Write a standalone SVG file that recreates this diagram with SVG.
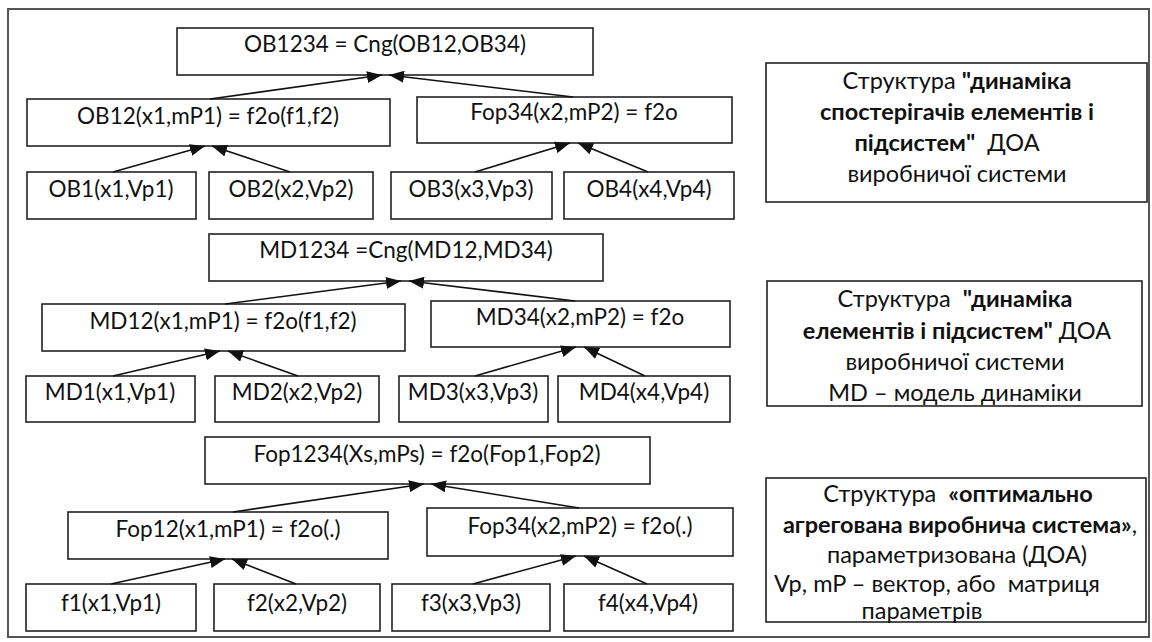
<svg xmlns="http://www.w3.org/2000/svg" width="1152" height="642" viewBox="0 0 1152 642">
  <style>
    .frame { fill: #ffffff; stroke: #555555; stroke-width: 2; }
    .box { fill: #ffffff; stroke: #222222; stroke-width: 1.6; }
    .t { font-family: Lato, "Liberation Sans", sans-serif; font-size: 22.5px; fill: #111111; text-anchor: middle; white-space: pre; }
    .n { font-family: Lato, "Liberation Sans", sans-serif; font-size: 23.5px; fill: #111111; text-anchor: middle; white-space: pre; }
    .b { font-weight: bold; }
    .edge { stroke: #111111; stroke-width: 1.6; fill: none; marker-end: url(#arrow); }
  </style>
  <defs>
    <marker id="arrow" markerUnits="userSpaceOnUse" markerWidth="15" markerHeight="12" refX="15" refY="6" orient="auto">
      <path d="M0,0 L15,6 L0,12 z" fill="#111111"/>
    </marker>
  </defs>
  <rect x="0" y="0" width="1152" height="642" fill="#ffffff"/>
  <rect class="frame" x="8" y="9" width="1141" height="628"/>

  <!-- top tree -->
  <g id="ob1234"><rect class="box" x="177" y="28" width="416" height="47"/><text class="t" x="385" y="52">OB1234 = Cng(OB12,OB34)</text></g>
  <g id="ob12"><rect class="box" x="27" y="99" width="363" height="47"/><text class="t" x="208" y="124">OB12(x1,mP1) = f2o(f1,f2)</text></g>
  <g id="fop34a"><rect class="box" x="417" y="97" width="315" height="46"/><text class="t" x="574" y="120">Fop34(x2,mP2) = f2o</text></g>
  <g id="ob1"><rect class="box" x="27" y="172" width="169" height="47"/><text class="t" x="111" y="197">OB1(x1,Vp1)</text></g>
  <g id="ob2"><rect class="box" x="209" y="172" width="164" height="47"/><text class="t" x="291" y="197">OB2(x2,Vp2)</text></g>
  <g id="ob3"><rect class="box" x="391" y="172" width="161" height="47"/><text class="t" x="471" y="197">OB3(x3,Vp3)</text></g>
  <g id="ob4"><rect class="box" x="564" y="172" width="170" height="47"/><text class="t" x="649" y="197">OB4(x4,Vp4)</text></g>

  <!-- middle tree -->
  <g id="md1234"><rect class="box" x="209" y="234" width="394" height="47"/><text class="t" x="406" y="258">MD1234 =Cng(MD12,MD34)</text></g>
  <g id="md12"><rect class="box" x="42" y="304" width="363" height="47"/><text class="t" x="223" y="329">MD12(x1,mP1) = f2o(f1,f2)</text></g>
  <g id="md34"><rect class="box" x="431" y="301" width="299" height="46"/><text class="t" x="580" y="325">MD34(x2,mP2) = f2o</text></g>
  <g id="md1"><rect class="box" x="26" y="376" width="169" height="46"/><text class="t" x="110" y="400">MD1(x1,Vp1)</text></g>
  <g id="md2"><rect class="box" x="215" y="376" width="164" height="46"/><text class="t" x="297" y="400">MD2(x2,Vp2)</text></g>
  <g id="md3"><rect class="box" x="399" y="376" width="149" height="46"/><text class="t" x="473" y="400">MD3(x3,Vp3)</text></g>
  <g id="md4"><rect class="box" x="558" y="376" width="172" height="46"/><text class="t" x="644" y="400">MD4(x4,Vp4)</text></g>

  <!-- bottom tree -->
  <g id="fop1234"><rect class="box" x="205" y="437" width="445" height="47"/><text class="t" x="427" y="462">Fop1234(Xs,mPs) = f2o(Fop1,Fop2)</text></g>
  <g id="fop12"><rect class="box" x="68" y="512" width="320" height="47"/><text class="t" x="228" y="537">Fop12(x1,mP1) = f2o(.)</text></g>
  <g id="fop34b"><rect class="box" x="427" y="508" width="306" height="48"/><text class="t" x="580" y="534">Fop34(x2,mP2) = f2o(.)</text></g>
  <g id="f1"><rect class="box" x="26" y="584" width="170" height="47"/><text class="t" x="111" y="611">f1(x1,Vp1)</text></g>
  <g id="f2"><rect class="box" x="214" y="584" width="166" height="47"/><text class="t" x="297" y="611">f2(x2,Vp2)</text></g>
  <g id="f3"><rect class="box" x="392" y="584" width="158" height="47"/><text class="t" x="471" y="611">f3(x3,Vp3)</text></g>
  <g id="f4"><rect class="box" x="564" y="584" width="169" height="47"/><text class="t" x="648" y="611">f4(x4,Vp4)</text></g>

  <!-- right notes -->
  <g id="note1">
    <rect class="box" x="766" y="63" width="381" height="139"/>
    <text class="n" x="957" y="89">Структура <tspan class="b">"динаміка</tspan></text>
    <text class="n b" x="957" y="120">спостерігачів елементів і</text>
    <text class="n" x="947" y="151"><tspan class="b">підсистем"</tspan>  ДОА</text>
    <text class="n" x="957" y="182">виробничої системи</text>
  </g>
  <g id="note2">
    <rect class="box" x="767" y="281" width="375" height="125"/>
    <text class="n" x="955" y="307">Структура  <tspan class="b">"динаміка</tspan></text>
    <text class="n" x="957" y="339"><tspan class="b">елементів і підсистем"</tspan> ДОА</text>
    <text class="n" x="955" y="370">виробничої системи</text>
    <text class="n" x="955" y="401">MD – модель динаміки</text>
  </g>
  <g id="note3">
    <rect class="box" x="766" y="478" width="380" height="144"/>
    <text class="n" x="958" y="502">Структура  <tspan class="b">«оптимально</tspan></text>
    <text class="n" x="960" y="533"><tspan class="b">агрегована виробнича система»</tspan>,</text>
    <text class="n" x="957" y="563">параметризована (ДОА)</text>
    <text class="n" x="937" y="592">Vp, mP – вектор, або  матриця</text>
    <text class="n" x="922" y="619">параметрів</text>
  </g>

  <g id="connectors">
    <line class="edge" x1="210" y1="99" x2="382" y2="75"/>
    <line class="edge" x1="573" y1="97" x2="389" y2="75"/>
    <line class="edge" x1="113" y1="172" x2="205" y2="146"/>
    <line class="edge" x1="290" y1="172" x2="212" y2="146"/>
    <line class="edge" x1="475" y1="172" x2="570" y2="143"/>
    <line class="edge" x1="648" y1="172" x2="578" y2="143"/>

    <line class="edge" x1="225" y1="304" x2="401" y2="281"/>
    <line class="edge" x1="575" y1="301" x2="409" y2="281"/>
    <line class="edge" x1="113" y1="376" x2="220" y2="351"/>
    <line class="edge" x1="298" y1="376" x2="228" y2="351"/>
    <line class="edge" x1="475" y1="376" x2="576" y2="347"/>
    <line class="edge" x1="645" y1="376" x2="584" y2="347"/>

    <line class="edge" x1="233" y1="512" x2="424" y2="484"/>
    <line class="edge" x1="579" y1="508" x2="431" y2="484"/>
    <line class="edge" x1="111" y1="584" x2="225" y2="559"/>
    <line class="edge" x1="296" y1="584" x2="232" y2="559"/>
    <line class="edge" x1="473" y1="584" x2="576" y2="556"/>
    <line class="edge" x1="647" y1="584" x2="584" y2="556"/>
  </g>
</svg>
